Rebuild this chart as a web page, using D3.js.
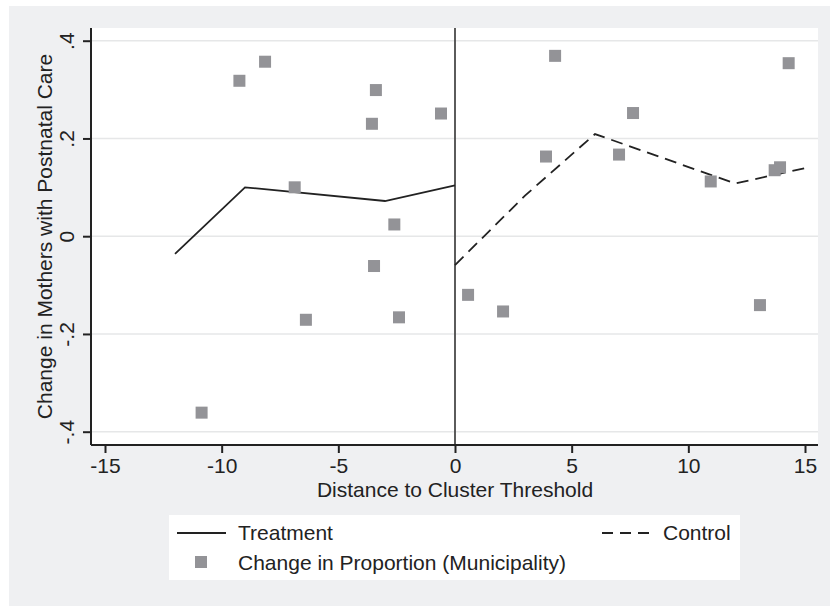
<!DOCTYPE html>
<html>
<head>
<meta charset="utf-8">
<script src="https://cdn.jsdelivr.net/npm/d3@7"></script>
<style>
  body { margin: 0; background: #fff; }
  text { font-family: "Liberation Sans", Arial, sans-serif; fill: #222; }
</style>
</head>
<body>
<div class="chart"></div>
<script>
// municipality points (distance, change)
const pointX = [-9.24, -8.14, -6.87, -6.39, -10.86, -3.56, -3.39, -3.47, -2.6, -2.4, -0.6,
                0.56, 2.06, 3.9, 4.29, 7.03, 7.63, 10.96, 13.07, 13.7, 13.93, 14.3];
const pointY = [0.318, 0.357, 0.100, -0.171, -0.361, 0.230, 0.299, -0.061, 0.024, -0.166, 0.251,
                -0.120, -0.154, 0.163, 0.369, 0.167, 0.252, 0.112, -0.141, 0.135, 0.141, 0.354];

// fitted lines
const treatX = [-12, -9, -3, 0];
const treatY = [-0.036, 0.100, 0.072, 0.104];
const ctrlX = [0, 3, 6, 12, 15];
const ctrlY = [-0.059, 0.083, 0.209, 0.108, 0.139];

const xTicks = [-15, -10, -5, 0, 5, 10, 15];
const yTicks = [-0.4, -0.2, 0, 0.2, 0.4];

const width = 830, height = 606;
const fs = 21;
const svg = d3.select('.chart').append('svg')
  .attr('width', width).attr('height', height);

// outer gray background
svg.append('rect').attr('x', 9).attr('y', 6).attr('width', width - 9).attr('height', height - 6)
  .attr('fill', '#eff0f2');

const plotL = 91, plotR = 818, plotT = 28, plotB = 445;
svg.append('rect').attr('x', plotL).attr('y', plotT)
  .attr('width', plotR - plotL).attr('height', plotB - plotT).attr('fill', '#fff');

const x = d3.scaleLinear().domain([-15, 15]).range([105, 805]);
const y = d3.scaleLinear().domain([-0.4, 0.4]).range([431.7, 40.7]);

// gridlines
svg.selectAll('.grid').data(yTicks).enter().append('line')
  .attr('x1', plotL).attr('x2', plotR)
  .attr('y1', d => y(d)).attr('y2', d => y(d))
  .attr('stroke', '#e6e7e8').attr('stroke-width', 1.5);

// threshold line
svg.append('line').attr('x1', x(0)).attr('x2', x(0)).attr('y1', plotT).attr('y2', plotB)
  .attr('stroke', '#4a4a4a').attr('stroke-width', 1.8);

const fmt = d => d === 0 ? '0' : String(+d.toFixed(1)).replace('0.', '.');

// x axis
const xAxis = svg.append('g').attr('transform', `translate(0,${plotB})`)
  .call(d3.axisBottom(x).tickValues(xTicks).tickSize(8).tickPadding(5).tickFormat(d => d));
xAxis.select('.domain').attr('d', `M${plotL},0H${plotR}`).attr('stroke', '#222').attr('stroke-width', 2);
xAxis.selectAll('.tick line').attr('stroke', '#222').attr('stroke-width', 2);
xAxis.selectAll('.tick text').attr('font-size', fs).attr('fill', '#222')
  .style('font-family', '"Liberation Sans", Arial, sans-serif');

// y axis
const yAxis = svg.append('g').attr('transform', `translate(${plotL},0)`)
  .call(d3.axisLeft(y).tickValues(yTicks).tickSize(8).tickFormat(fmt));
yAxis.select('.domain').attr('d', `M0,${plotT}V${plotB}`).attr('stroke', '#222').attr('stroke-width', 2);
yAxis.selectAll('.tick line').attr('stroke', '#222').attr('stroke-width', 2);
yAxis.selectAll('.tick text')
  .attr('x', 0).attr('y', 0).attr('dy', 0)
  .attr('transform', 'translate(-17,0) rotate(-90)')
  .attr('text-anchor', 'middle')
  .attr('font-size', fs).attr('fill', '#222')
  .style('font-family', '"Liberation Sans", Arial, sans-serif');

// axis titles
svg.append('text').attr('x', x(0)).attr('y', 497).attr('text-anchor', 'middle')
  .attr('font-size', fs).text('Distance to Cluster Threshold');
svg.append('text').attr('transform', `translate(52,${(plotT + plotB) / 2}) rotate(-90)`)
  .attr('text-anchor', 'middle').attr('font-size', fs)
  .text('Change in Mothers with Postnatal Care');

// lines
const line = d3.line().x(d => x(d[0])).y(d => y(d[1]));
svg.append('path').datum(treatX.map((v, i) => [v, treatY[i]]))
  .attr('d', line).attr('fill', 'none').attr('stroke', '#222').attr('stroke-width', 1.8);
svg.append('path').datum(ctrlX.map((v, i) => [v, ctrlY[i]]))
  .attr('d', line).attr('fill', 'none').attr('stroke', '#222').attr('stroke-width', 1.8)
  .attr('stroke-dasharray', '12,7');

// points
const sz = 12;
svg.selectAll('.pt').data(pointX.map((v, i) => [v, pointY[i]])).enter().append('rect')
  .attr('x', d => x(d[0]) - sz / 2).attr('y', d => y(d[1]) - sz / 2)
  .attr('width', sz).attr('height', sz).attr('fill', '#939397');

// legend
svg.append('rect').attr('x', 169).attr('y', 515).attr('width', 571).attr('height', 65).attr('fill', '#fff');
svg.append('line').attr('x1', 177).attr('x2', 226).attr('y1', 533).attr('y2', 533)
  .attr('stroke', '#222').attr('stroke-width', 1.8);
svg.append('text').attr('x', 238).attr('y', 540).attr('font-size', fs).text('Treatment');
svg.append('line').attr('x1', 602).attr('x2', 651).attr('y1', 533).attr('y2', 533)
  .attr('stroke', '#222').attr('stroke-width', 1.8).attr('stroke-dasharray', '11,7');
svg.append('text').attr('x', 663).attr('y', 540).attr('font-size', fs).text('Control');
svg.append('rect').attr('x', 195).attr('y', 556).attr('width', sz).attr('height', sz).attr('fill', '#939397');
svg.append('text').attr('x', 238).attr('y', 570).attr('font-size', fs).text('Change in Proportion (Municipality)');
</script>
</body>
</html>
